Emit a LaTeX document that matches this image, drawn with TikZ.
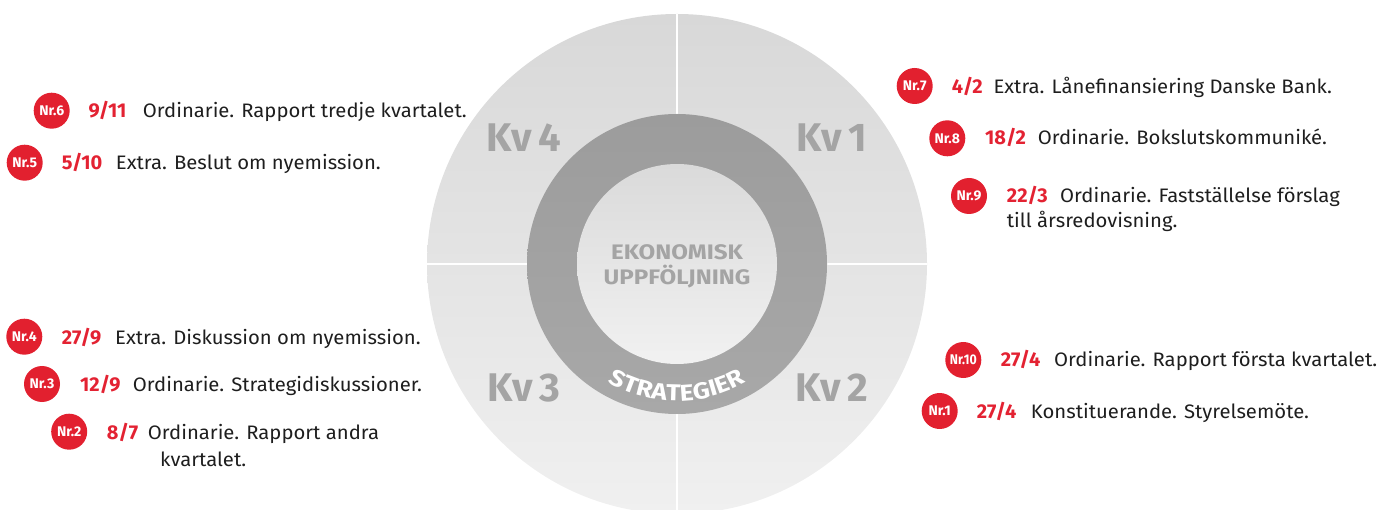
\documentclass[tikz,border=0pt]{standalone}
\usepackage{fontspec}
\usepackage{graphicx}
\setmainfont{Fira Sans}
\newfontfamily\bodyfont[FakeStretch=1.04]{Fira Sans}
\newfontfamily\datefont{Fira Sans}
\newfontfamily\widefont[FakeStretch=1.15]{Fira Sans}
\usetikzlibrary{decorations.text}
\definecolor{badgered}{HTML}{E2202F}
\definecolor{datered}{HTML}{E32232}
\definecolor{txtdark}{HTML}{1E1E1E}
\definecolor{kvgray}{HTML}{A4A4A4}
\definecolor{outertop}{HTML}{D8D8D8}
\definecolor{outerbot}{HTML}{F0F0F0}
\definecolor{ringtop}{HTML}{9C9C9C}
\definecolor{ringbot}{HTML}{A8A8A8}
\definecolor{innertop}{HTML}{DADADA}
\definecolor{innerbot}{HTML}{F1F1F1}
\newcommand{\strfont}{\widefont\bfseries\fontsize{23}{23}\selectfont}
\begin{document}
\begin{tikzpicture}[x=1pt,y=1pt,
  badge/.style={circle, fill=badgered, minimum size=36pt, inner sep=0pt, text=white,
    font=\bfseries\fontsize{14}{14}\selectfont},
  datetxt/.style={anchor=base west, inner sep=0pt, text=datered,
    font=\datefont\bfseries\fontsize{20}{20}\selectfont},
  desctxt/.style={anchor=base west, inner sep=0pt, text=txtdark,
    font=\bodyfont\fontsize{19.5}{19.5}\selectfont},
  kvlabel/.style={text=kvgray, inner sep=0pt, font=\bfseries\fontsize{40}{40}\selectfont},
  centertxt/.style={text=kvgray, inner sep=0pt, anchor=base, font=\widefont\bfseries\fontsize{21}{21}\selectfont},
  divider/.style={white, line width=2pt}
]
\useasboundingbox (0,0) rectangle (1397,509);
\coordinate (c) at (677,245);
\begin{scope}
  \clip (0,0) rectangle (1397,509);
  \shade[top color=outertop, bottom color=outerbot] (c) circle[radius=250];
  \draw[divider] (c) ++(0,250) -- ++(0,-500);
  \draw[divider] (c) ++(-250,0) -- ++(500,0);
\end{scope}
\shade[top color=ringtop, bottom color=ringbot] (c) circle[radius=150];
\shade[top color=innertop, bottom color=innerbot] (c) circle[radius=100];

\node[kvlabel] (kv4) at (523.7,371) {Kv\,4};
\node[kvlabel] (kv1) at (832,371) {Kv\,1};
\node[kvlabel] (kv3) at (523.7,121) {Kv\,3};
\node[kvlabel] (kv2) at (832,121) {Kv\,2};

\node[centertxt] (eko) at (677,249.7) {EKONOMISK};
\node[centertxt] (upp) at (677,224) {UPPFÖLJNING};

\path[decorate, decoration={text along path, text={|\strfont|STRATEGIER}, text align=center, text color=white}]
  (c) ++(225:137) arc[start angle=225, end angle=315, radius=137];

% left top
\node[badge] (b6) at (51.7,398.3) {Nr.6};
\node[datetxt] (d6) at (88.3,391.3) {9/11};
\node[desctxt] (t6) at (142.7,391.3) {Ordinarie. Rapport tredje kvartalet.};
\node[badge] (b5) at (24.7,346.3) {Nr.5};
\node[datetxt] (d5) at (61.7,339) {5/10};
\node[desctxt] (t5) at (115.7,339) {Extra. Beslut om nyemission.};

% right top
\node[badge] (b7) at (914.7,423) {Nr.7};
\node[datetxt] (d7) at (951.7,415.7) {4/2};
\node[desctxt] (t7) at (993.3,415.7) {Extra. Lånefinansiering Danske Bank.};
\node[badge] (b8) at (947.3,370.7) {Nr.8};
\node[datetxt] (d8) at (985,364) {18/2};
\node[desctxt] (t8) at (1037.7,364) {Ordinarie. Bokslutskommuniké.};
\node[badge] (b9) at (969,313) {Nr.9};
\node[datetxt] (d9) at (1006.7,306.3) {22/3};
\node[desctxt] (t9) at (1060,306.3) {Ordinarie. Fastställelse förslag};
\node[desctxt] (t9b) at (1006.7,281.7) {till årsredovisning.};

% left bottom
\node[badge] (b4) at (24.3,172.3) {Nr.4};
\node[datetxt] (d4) at (61.7,164.7) {27/9};
\node[desctxt] (t4) at (115,164.7) {Extra. Diskussion om nyemission.};
\node[badge] (b3) at (42,125) {Nr.3};
\node[datetxt] (d3) at (80,117.3) {12/9};
\node[desctxt] (t3) at (132.7,117.3) {Ordinarie. Strategidiskussioner.};
\node[badge] (b2) at (69.2,77.3) {Nr.2};
\node[datetxt] (d2) at (106.7,69.7) {8/7};
\node[desctxt] (t2) at (147.7,69.7) {Ordinarie. Rapport andra};
\node[desctxt] (t2b) at (160,42.3) {kvartalet.};

% right bottom
\node[badge] (b10) at (963.3,149) {\scalebox{0.88}[1]{Nr.10}};
\node[datetxt] (d10) at (1000.7,142.3) {27/4};
\node[desctxt] (t10) at (1054,142.3) {Ordinarie. Rapport första kvartalet.};
\node[badge] (b1) at (939.7,98) {Nr.1};
\node[datetxt] (d1) at (976.7,90.7) {27/4};
\node[desctxt] (t1) at (1030.7,90.7) {Konstituerande. Styrelsemöte.};
\end{tikzpicture}
\end{document}
